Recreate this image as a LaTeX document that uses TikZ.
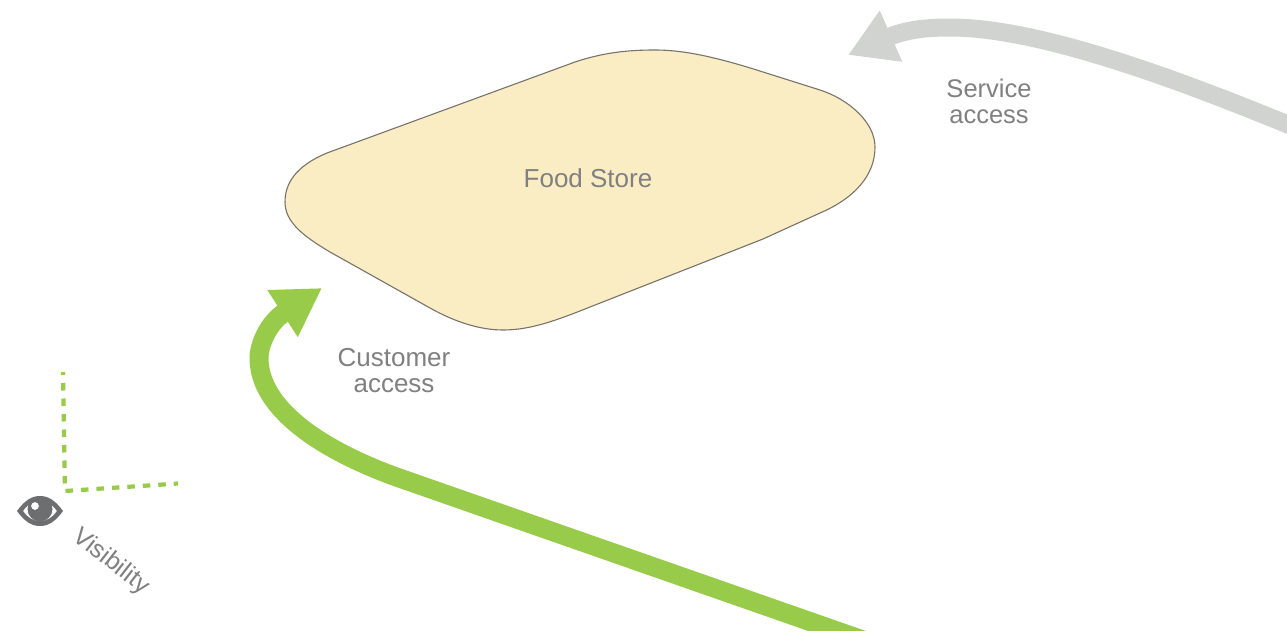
\documentclass[tikz,border=0pt]{standalone}
\usepackage{fontspec}
\setmainfont{Liberation Sans}
\usetikzlibrary{arrows.meta}
\definecolor{storefill}{HTML}{FBEDC3}
\definecolor{storeline}{HTML}{77736A}
\definecolor{greenarrow}{HTML}{97CB49}
\definecolor{grayarrow}{HTML}{D1D3D1}
\definecolor{labelgray}{HTML}{808080}
\definecolor{eyegray}{HTML}{6D6E70}
\tikzset{
  x=1pt,y=-1pt,
  lbl/.style={text=labelgray,font=\fontsize{26}{26.5}\selectfont,align=center,inner sep=0pt},
  greenflow/.style={draw=greenarrow,line width=19pt,-{Triangle[length=47pt,width=52.5pt]}},
  grayflow/.style={draw=grayarrow,line width=18pt,-{Triangle[length=47pt,width=52.5pt]}},
  sight/.style={draw=greenarrow,line width=4.2pt,dash pattern=on 7.5pt off 8pt,dash phase=4.5pt},
}
\begin{document}
\begin{tikzpicture}
\useasboundingbox (0,0) rectangle (1287,634);
\clip (0,0) rectangle (1287,630);
\fill[white] (0,0) rectangle (1287,634);
% store
\draw[fill=storefill,draw=storeline,line width=1.1pt]
  (655,50) .. controls (680,50) and (710,55) .. (763,72)
  -- (820,90)
  .. controls (848,99) and (875,122) .. (875,147)
  .. controls (875,175) and (855,198) .. (820,213)
  -- (763,239)
  -- (590,307)
  .. controls (555,321) and (530,330) .. (503,330)
  .. controls (480,330) and (455,322) .. (430,308)
  -- (330,252)
  .. controls (303,236) and (285,222) .. (285,202)
  .. controls (285,178) and (303,163) .. (327,153)
  -- (575,62)
  .. controls (605,52) and (630,50) .. (655,50) -- cycle;
\node[lbl] (store) at (588,178) {Food Store};
% customer access
\coordinate (custfrom) at (880,646);
\coordinate (custto) at (322,288);
\draw[greenflow] (custfrom) -- (395,476.5)
  .. controls (320,449) and (259,408) .. (259,358)
  .. controls (259,345) and (268,323) .. (custto);
\node[lbl] (custlabel) at (394,370.5) {Customer\\access};
% service access
\coordinate (servfrom) at (1300,129.5);
\coordinate (servto) at (848,55);
\draw[grayflow] (servfrom) .. controls (1180,80) and (1040,27.5) .. (950,27.5)
  .. controls (925,27.5) and (905,30) .. (servto);
\node[lbl,font=\fontsize{25.5}{26}\selectfont] (servlabel) at (989,101.5) {Service\\access};
% visibility
\coordinate (apex) at (65,491);
\coordinate (vtop) at (63,372);
\coordinate (vright) at (178,483.5);
\draw[sight] (vtop) -- (apex) -- (vright);
\node[inner sep=0pt] (eye) at (40,511) {};
\fill[eyegray,even odd rule] (17,511) .. controls (25,500) and (32,496) .. (40,496)
  .. controls (48,496) and (55,500) .. (63,511)
  .. controls (55,522) and (48,526) .. (40,526)
  .. controls (32,526) and (25,522) .. (17,511) -- cycle
  (23,511) .. controls (28,504) and (33,501) .. (40,501)
  .. controls (47,501) and (52,504) .. (57,511)
  .. controls (52,518) and (47,521) .. (40,521)
  .. controls (33,521) and (28,518) .. (23,511) -- cycle;
\fill[eyegray,even odd rule] (40,509) circle[radius=12.5pt] (35,506) circle[radius=4pt];
\node[lbl,rotate=-38,font=\fontsize{25}{26}\selectfont] (vislabel) at (111,562) {Visibility};
\end{tikzpicture}
\end{document}
